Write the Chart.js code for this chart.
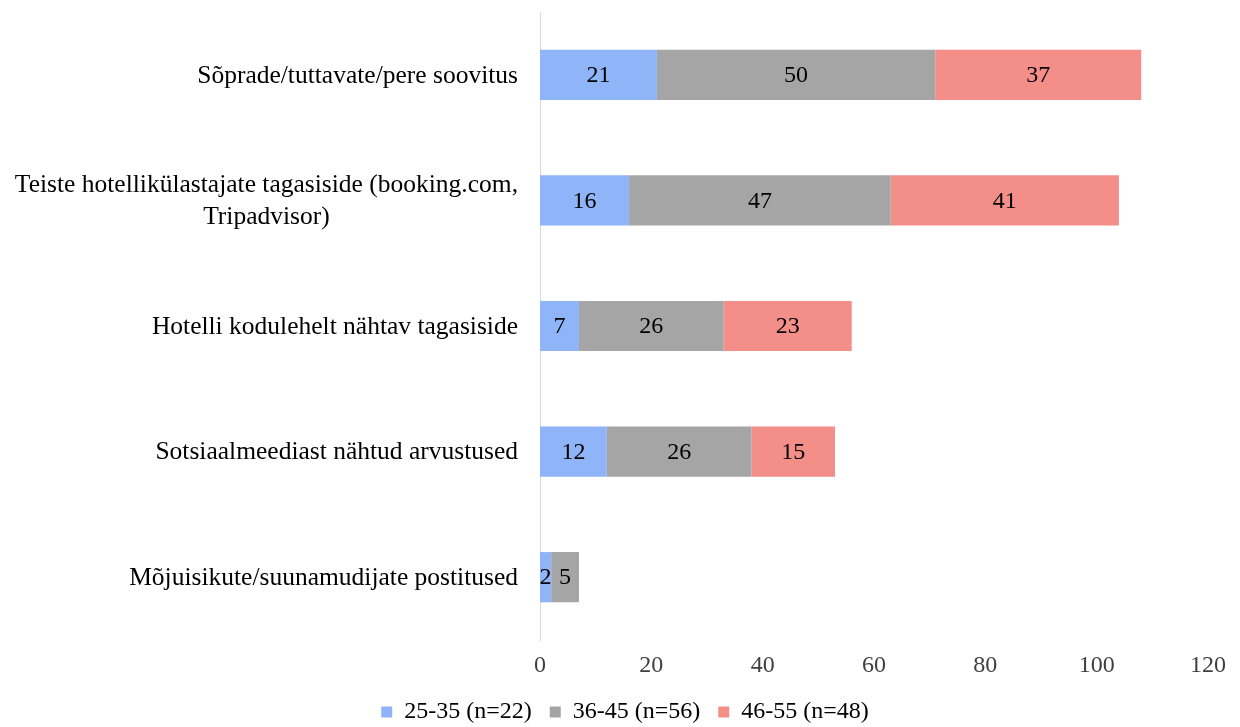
<!DOCTYPE html>
<html>
<head>
<meta charset="utf-8">
<script src="https://cdn.jsdelivr.net/npm/chart.js@4"></script>
<style>
  html, body { margin: 0; padding: 0; background: #fff; }
  #wrap { width: 1240px; height: 727px; position: relative; }
</style>
</head>
<body>
<div id="wrap"><canvas id="grafico"></canvas></div>
<script>
'use strict';

// Kategooriad (mitmerealine silt massiivina)
const categories = [
  'Sõprade/tuttavate/pere soovitus',
  ['Teiste hotellikülastajate tagasiside (booking.com,', 'Tripadvisor)'],
  'Hotelli kodulehelt nähtav tagasiside',
  'Sotsiaalmeediast nähtud arvustused',
  'Mõjuisikute/suunamudijate postitused'
];

const seriesNames = ['25-35 (n=22)', '36-45 (n=56)', '46-55 (n=48)'];
const age25_35 = [21, 16, 7, 12, 2];
const age36_45 = [50, 47, 26, 26, 5];
const age46_55 = [37, 41, 23, 15, null];

const xTicks = [0, 20, 40, 60, 80, 100, 120];

const colors = ['#8fb4f7', '#a5a5a5', '#f38f88'];
const FONT = "'Liberation Serif', 'Times New Roman', serif";

// Väärtused lõikude keskele
const valueLabels = {
  id: 'valueLabels',
  afterDatasetsDraw(chart) {
    const ctx = chart.ctx;
    ctx.save();
    ctx.font = '24px ' + FONT;
    ctx.fillStyle = '#000';
    ctx.textAlign = 'center';
    ctx.textBaseline = 'middle';
    chart.data.datasets.forEach((ds, i) => {
      chart.getDatasetMeta(i).data.forEach((bar, j) => {
        const v = ds.data[j];
        if (v == null) return;
        const p = bar.getProps(['x', 'y', 'base'], true);
        ctx.fillText(String(v), (p.x + p.base) / 2, p.y + 1);
      });
    });
    ctx.restore();
  }
};

// Kategooriasildid: read tsentreeritud, plokk paremale joondatud
const categoryLabels = {
  id: 'categoryLabels',
  afterDraw(chart) {
    const ctx = chart.ctx;
    const yScale = chart.scales.y;
    const right = chart.chartArea.left - 22;
    const lineH = 32;
    ctx.save();
    ctx.font = '25.5px ' + FONT;
    ctx.fillStyle = '#000';
    ctx.textAlign = 'center';
    ctx.textBaseline = 'middle';
    chart.data.labels.forEach((lbl, i) => {
      const lines = Array.isArray(lbl) ? lbl : [lbl];
      const widest = Math.max(...lines.map(l => ctx.measureText(l).width));
      const cx = right - widest / 2;
      const cy = yScale.getPixelForValue(i);
      const y0 = cy - (lines.length - 1) * lineH / 2;
      lines.forEach((l, k) => ctx.fillText(l, cx, y0 + k * lineH + 1));
    });
    ctx.restore();
  }
};

const datasets = [age25_35, age36_45, age46_55].map((data, i) => ({
  label: seriesNames[i],
  data: data,
  backgroundColor: colors[i],
  borderWidth: 0,
  barPercentage: 0.4,
  categoryPercentage: 1
}));

new Chart(document.getElementById('grafico').getContext('2d'), {
  type: 'bar',
  data: { labels: categories, datasets },
  plugins: [valueLabels, categoryLabels],
  options: {
    indexAxis: 'y',
    responsive: true,
    maintainAspectRatio: false,
    animation: false,
    layout: { padding: { top: 12, right: 0, bottom: 0, left: 10 } },
    plugins: {
      legend: {
        position: 'bottom',
        maxHeight: 45,
        labels: {
          boxWidth: 11,
          boxHeight: 11,
          padding: 18,
          color: '#000',
          font: { family: FONT, size: 24 }
        }
      },
      tooltip: { enabled: false }
    },
    scales: {
      x: {
        stacked: true,
        min: 0,
        max: 120,
        afterBuildTicks: s => { s.ticks = xTicks.map(v => ({ value: v })); },
        afterFit: s => { s.height = 42; s.paddingRight = 32; },
        grid: { display: false, drawTicks: false },
        border: { display: false },
        ticks: { padding: 11, color: '#404040', font: { family: FONT, size: 24 } }
      },
      y: {
        stacked: true,
        afterFit: s => { s.width = 530; },
        grid: { display: false, drawTicks: false },
        border: { display: true, color: '#d9d9d9', width: 1 },
        ticks: { display: false }
      }
    }
  }
});
</script>
</body>
</html>
